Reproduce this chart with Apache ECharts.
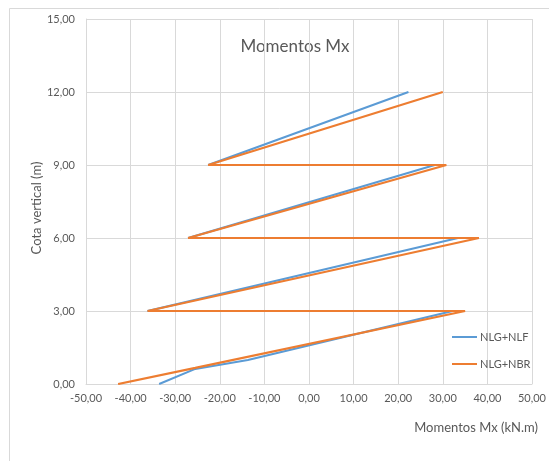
<!DOCTYPE html>
<html>
<head>
<meta charset="utf-8">
<script src="https://cdn.jsdelivr.net/npm/echarts@6/dist/echarts.min.js"></script>
<style>
  html, body { margin: 0; padding: 0; background: #fff; }
  #chart { width: 549px; height: 461px; }
</style>
</head>
<body>
<div id="chart"></div>
<script>
// Heights along the column (m) and bending moments Mx (kN.m), bottom to top
const heightsNLF = [0, 0.62, 0.99, 3, 3, 6, 6, 9, 9, 12];
const momentsNLF = [-33.6, -25.5, -13.7, 32.2, -36.2, 33.4, -27.1, 28.2, -22.6, 22.3];

const heightsNBR = [0, 0.66, 3, 3, 6, 6, 9, 9, 12];
const momentsNBR = [-42.8, -25.5, 35.0, -36.2, 38.1, -27.1, 30.8, -22.6, 30.0];

const seriesNames = ['NLG+NLF', 'NLG+NBR'];

// Axis ticks and their labels
const xTicks = [-50, -40, -30, -20, -10, 0, 10, 20, 30, 40, 50];
const xTickLabels = ['-50,00', '-40,00', '-30,00', '-20,00', '-10,00', '0,00', '10,00', '20,00', '30,00', '40,00', '50,00'];
const yTicks = [0, 3, 6, 9, 12, 15];
const yTickLabels = ['0,00', '3,00', '6,00', '9,00', '12,00', '15,00'];

const pairs = (xs, ys) => xs.map((x, i) => [x, ys[i]]);
const lookup = (ticks, labels) => (v) => {
  const i = ticks.findIndex(t => Math.abs(t - v) < 1e-6);
  return i >= 0 ? labels[i] : '';
};

const txt = '#595959';
const gridCol = '#D9D9D9';
const font = 'Lato, "Open Sans", sans-serif';

const chart = echarts.init(document.getElementById('chart'), null, { renderer: 'canvas' });
chart.setOption({
  backgroundColor: '#fff',
  animation: false,
  graphic: [
    {
      type: 'rect',
      shape: { x: 9.5, y: 8.5, width: 700, height: 600 },
      style: { fill: 'none', stroke: gridCol, lineWidth: 1 },
      silent: true, z: -1
    },
    {
      type: 'text',
      x: 295, y: 47,
      style: {
        text: 'Momentos Mx', fill: txt, font: '17px ' + font,
        textAlign: 'center', textVerticalAlign: 'middle'
      }
    },
    {
      type: 'text',
      x: 538, y: 428,
      style: {
        text: 'Momentos Mx (kN.m)', fill: txt, font: '13px ' + font,
        textAlign: 'right', textVerticalAlign: 'middle'
      }
    },
    {
      type: 'text',
      x: 37, y: 208,
      rotation: Math.PI / 2,
      style: {
        text: 'Cota vertical (m)', fill: txt, font: '13px ' + font,
        textAlign: 'center', textVerticalAlign: 'middle'
      }
    }
  ],
  grid: { left: 86, right: 10, top: 19, bottom: 77, containLabel: false },
  legend: {
    orient: 'vertical',
    left: 447, top: 326.5,
    itemWidth: 25, itemHeight: 14, itemGap: 16,
    textStyle: { color: txt, fontSize: 11, fontFamily: font, padding: [0, 0, 0, -2] },
    data: seriesNames.map(n => ({ name: n, icon: 'path://M0,6 L25,6 L25,8 L0,8 Z' }))
  },
  xAxis: {
    type: 'value', min: -50, max: 50, interval: 10,
    axisLine: { show: true, onZero: false, lineStyle: { color: gridCol, width: 1 } },
    axisTick: { show: false },
    axisLabel: { color: txt, fontSize: 11, fontFamily: font, margin: 9, formatter: lookup(xTicks, xTickLabels) },
    splitLine: { show: true, lineStyle: { color: gridCol, width: 1 } }
  },
  yAxis: {
    type: 'value', min: 0, max: 15, interval: 3,
    axisLine: { show: true, onZero: false, lineStyle: { color: gridCol, width: 1 } },
    axisTick: { show: false },
    axisLabel: { color: txt, fontSize: 11, fontFamily: font, margin: 11, formatter: lookup(yTicks, yTickLabels) },
    splitLine: { show: true, lineStyle: { color: gridCol, width: 1 } }
  },
  series: [
    {
      name: seriesNames[0], type: 'line',
      data: pairs(momentsNLF, heightsNLF),
      symbol: 'none', showSymbol: false,
      lineStyle: { color: '#5B9BD5', width: 2 },
      itemStyle: { color: '#5B9BD5' },
      z: 2
    },
    {
      name: seriesNames[1], type: 'line',
      data: pairs(momentsNBR, heightsNBR),
      symbol: 'none', showSymbol: false,
      lineStyle: { color: '#ED7D31', width: 2.2 },
      itemStyle: { color: '#ED7D31' },
      z: 3
    }
  ]
});
</script>
</body>
</html>
